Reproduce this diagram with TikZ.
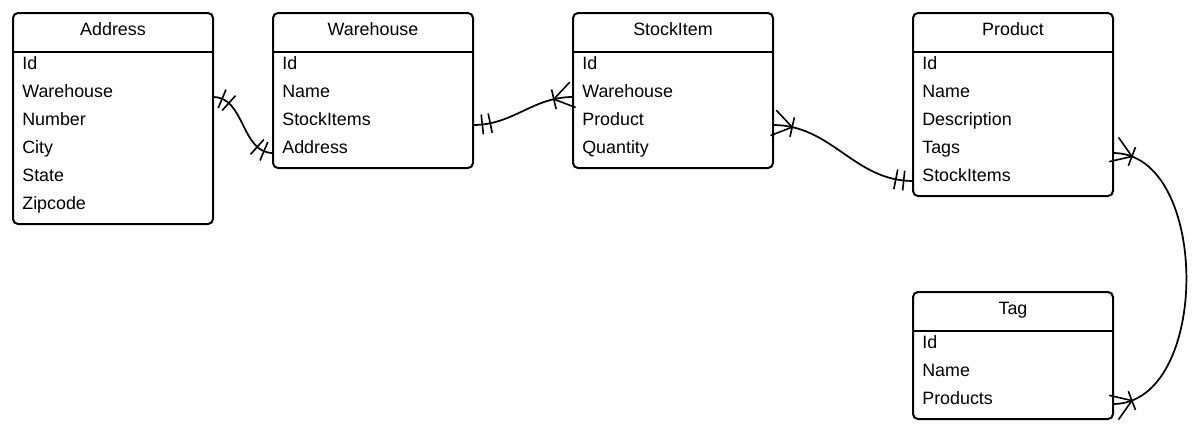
\documentclass[tikz,border=0pt]{standalone}
\usepackage{fontspec}
\setmainfont{Liberation Sans}
\usetikzlibrary{positioning, decorations.markings}

\begin{document}
\begin{tikzpicture}[
		x=0.75pt, y=-0.75pt, % pixel grid of the reference
		title/.style={anchor=north west, minimum width=150pt, minimum height=29.25pt, text width=136pt, inner xsep=7pt, inner ysep=0pt, outer sep=0pt, align=center, text height=9.6pt, text depth=5pt, font=\fontsize{13.4pt}{16pt}\selectfont},
		field/.style={anchor=north west, minimum width=150pt, minimum height=21pt, text width=136pt, inner xsep=7pt, inner ysep=0pt, outer sep=0pt, align=left, text height=9.6pt, text depth=4.2pt, font=\fontsize{13.4pt}{16pt}\selectfont},
		entity/.style={draw=black, line width=1.5pt, rounded corners=3.75pt},
		link/.style={line width=1.3pt},
		erbar/.style={line width=1.2pt},
		one start/.style={postaction={decorate, decoration={markings,
			mark=at position 7pt with {\draw[erbar] (0,-7.5pt) -- (0,7.5pt);},
			mark=at position 13pt with {\draw[erbar] (0,-7.5pt) -- (0,7.5pt);}}}},
		one end/.style={postaction={decorate, decoration={markings,
			mark=at position -13pt with {\draw[erbar] (0,-7.5pt) -- (0,7.5pt);},
			mark=at position -7pt with {\draw[erbar] (0,-7.5pt) -- (0,7.5pt);}}}},
		many start/.style={postaction={decorate, decoration={markings,
			mark=at position 14.5pt with {\draw[erbar] (0,-7.5pt) -- (0,7.5pt); \draw[erbar] (-14.5pt,-9.75pt) -- (0,0) -- (-14.5pt,9.75pt);}}}},
		many end/.style={postaction={decorate, decoration={markings,
			mark=at position -14.5pt with {\draw[erbar] (0,-7.5pt) -- (0,7.5pt); \draw[erbar] (14.5pt,-9.75pt) -- (0,0) -- (14.5pt,9.75pt);}}}}
		]
		
		\useasboundingbox (0,0) rectangle (1199,429);
		
		% Entity headers
		\node[title] (addr) at (13,13) {Address};
		\node[title, right=45pt of addr] (wh) {Warehouse};
		\node[title, right=75pt of wh] (stock) {StockItem};
		\node[title, right=105pt of stock] (prod) {Product};
		\node[title, below=180pt of prod] (tag) {Tag};
		
		% Fields
		\foreach \f [count=\i] in {Id, Warehouse, Number, City, State, Zipcode}
			\node[field] (addr-\i) at ([yshift={-(\i-1)*21pt}]addr.south west) {\f};
		\foreach \f [count=\i] in {Id, Name, StockItems, Address}
			\node[field] (wh-\i) at ([yshift={-(\i-1)*21pt}]wh.south west) {\f};
		\foreach \f [count=\i] in {Id, Warehouse, Product, Quantity}
			\node[field] (stock-\i) at ([yshift={-(\i-1)*21pt}]stock.south west) {\f};
		\foreach \f [count=\i] in {Id, Name, Description, Tags, StockItems}
			\node[field] (prod-\i) at ([yshift={-(\i-1)*21pt}]prod.south west) {\f};
		\foreach \f [count=\i] in {Id, Name, Products}
			\node[field] (tag-\i) at ([yshift={-(\i-1)*21pt}]tag.south west) {\f};
		
		% Entity frames
		\draw[entity] (addr.north west) rectangle ([yshift=-3pt]addr-6.south east);
		\draw[entity] (wh.north west) rectangle ([yshift=-3pt]wh-4.south east);
		\draw[entity] (stock.north west) rectangle ([yshift=-3pt]stock-4.south east);
		\draw[entity] (prod.north west) rectangle ([yshift=-3pt]prod-5.south east);
		\draw[entity] (tag.north west) rectangle ([yshift=-3pt]tag-3.south east);
		\foreach \e in {addr, wh, stock, prod, tag}
			\draw[entity] (\e.south west) -- (\e.south east);
		
		% Relations
		\draw[link, one start, one end] ([yshift=-2.25pt]addr-2.east) to[out=0, in=180] ([yshift=-2.25pt]wh-4.west);
		\draw[link, one start, many end] ([yshift=-2.25pt]wh-3.east) to[out=0, in=180] ([yshift=-2.25pt]stock-2.west);
		\draw[link, many start, one end] ([yshift=-2.25pt]stock-3.east) to[out=0, in=180] ([yshift=-2.25pt]prod-5.west);
		\draw[link, many start, many end] ([yshift=-2.25pt]prod-4.east) to[out=0, in=0] ([yshift=-2.25pt]tag-3.east);
		
	\end{tikzpicture}
\end{document}
